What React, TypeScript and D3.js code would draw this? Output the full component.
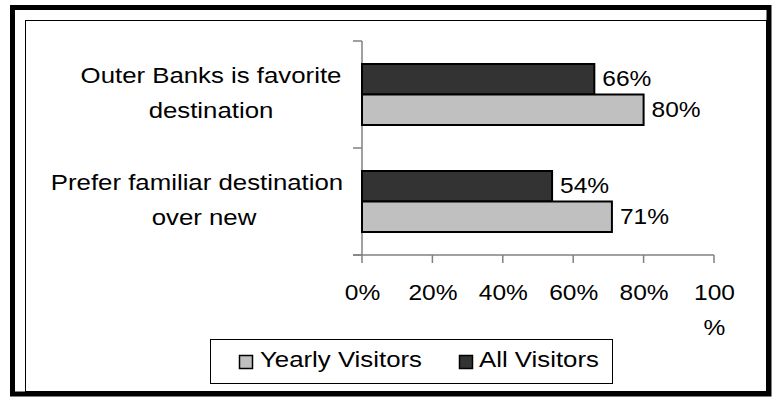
import React from "react";
import * as d3 from "d3";

const categories = ["Outer Banks is favorite destination", "Prefer familiar destination over new"];
const categoryLines = [["Outer Banks is favorite", "destination"], ["Prefer familiar destination", "over new"]];
const allVisitors = [66, 54];
const yearlyVisitors = [80, 71];
const tickValues = [0, 20, 40, 60, 80, 100];
const tickLines = [["0%"], ["20%"], ["40%"], ["60%"], ["80%"], ["100", "%"]];
const seriesNames = ["All Visitors", "Yearly Visitors"];
const legendNames = ["Yearly Visitors", "All Visitors"];

const W = 776;
const H = 402;
const FONT = "'Liberation Sans', Arial, sans-serif";
const FS = 21.5;
const SX_NUM = 1.14;
const SX_TXT = 1.2;
const DARK = "#333333";
const LIGHT = "#c0c0c0";
const AXIS = "#808080";

function T({ x, y, anchor = "start", sx = SX_NUM, children }: any) {
  return (
    <text
      transform={`translate(${x},${y}) scale(${sx},1)`}
      textAnchor={anchor}
      fontFamily={FONT}
      fontSize={FS}
      fill="#000"
    >
      {children}
    </text>
  );
}

export default function App() {
  const x = d3.scaleLinear().domain([0, 100]).range([362, 714]);
  const y = d3.scaleBand<string>().domain(categories).range([41, 255]).padding(0);
  const groupH = 61;
  const inner = d3
    .scaleBand<string>()
    .domain(seriesNames)
    .range([0, groupH])
    .padding(0);
  const seriesData: Record<string, number[]> = {
    "All Visitors": allVisitors,
    "Yearly Visitors": yearlyVisitors,
  };
  const seriesColor: Record<string, string> = {
    "All Visitors": DARK,
    "Yearly Visitors": LIGHT,
  };
  const bw = y.bandwidth();
  const off = (bw - groupH) / 2;
  const x0 = x(0);
  const yTop = y.range()[0];
  const yBot = y.range()[1];
  const labelCenters = [[211, 211], [197, 204]];

  const legendItems = [
    { name: legendNames[0], sx: 239, tx: 260 },
    { name: legendNames[1], sx: 459, tx: 479 },
  ];

  return (
    <div style={{ position: "absolute", left: 0, top: 0 }}>
      <svg width={W} height={H} style={{ display: "block" }}>
        <rect x={0} y={0} width={W} height={H} fill="#fff" />
        <rect x={12.5} y={7.5} width={756.5} height={386.5} fill="none" stroke="#000" strokeWidth={5} />
        <rect x={25.5} y={20.5} width={741} height={371} fill="none" stroke="#000" strokeWidth={1} />

        {/* y axis */}
        <line x1={x0} x2={x0} y1={yTop} y2={yBot} stroke={AXIS} strokeWidth={1.5} />
        {[...categories.map((c) => y(c)!), yBot].map((v, i) => (
          <line key={"yt" + i} x1={x0 - 9} x2={x0} y1={v} y2={v} stroke={AXIS} strokeWidth={1.5} />
        ))}
        {/* x axis */}
        <line x1={x0 - 9} x2={x(100)} y1={yBot} y2={yBot} stroke={AXIS} strokeWidth={1.5} />
        {tickValues.map((t, i) => (
          <line key={"xt" + i} x1={x(t)} x2={x(t)} y1={yBot} y2={yBot + 8} stroke={AXIS} strokeWidth={1.5} />
        ))}
        {tickValues.map((t, i) =>
          tickLines[i].map((ln, j) => (
            <T key={"xl" + i + "_" + j} x={x(t) + 0.5} y={300 + j * 35} anchor="middle">
              {ln}
            </T>
          ))
        )}

        {/* category labels */}
        {categories.map((c, i) => {
          const cy = y(c)! + bw / 2;
          return categoryLines[i].map((ln, j) => (
            <T key={"cl" + i + "_" + j} x={labelCenters[i][j]} y={cy - 11.5 + j * 34.5} anchor="middle" sx={SX_TXT}>
              {ln}
            </T>
          ));
        })}

        {/* bars */}
        {categories.map((c, i) =>
          seriesNames.map((s) => {
            const v = seriesData[s][i];
            const by = y(c)! + off + inner(s)!;
            const bh = inner.bandwidth();
            return (
              <g key={c + s}>
                <rect
                  x={x0}
                  y={by}
                  width={x(v) - x0}
                  height={bh}
                  fill={seriesColor[s]}
                  stroke="#000"
                  strokeWidth={2}
                />
                <T x={x(v) + 8} y={by + bh / 2 + 7}>
                  {v + "%"}
                </T>
              </g>
            );
          })
        )}

        {/* legend */}
        <rect x={210.5} y={339.5} width={402} height={44} fill="#fff" stroke="#000" strokeWidth={1} />
        {legendItems.map((it) => (
          <g key={it.name}>
            <rect
              x={it.sx + 0.5}
              y={355.5}
              width={13}
              height={13}
              fill={it.name === "All Visitors" ? DARK : LIGHT}
              stroke="#000"
              strokeWidth={1.5}
            />
            <T x={it.tx} y={367} sx={SX_TXT}>
              {it.name}
            </T>
          </g>
        ))}
      </svg>
    </div>
  );
}
